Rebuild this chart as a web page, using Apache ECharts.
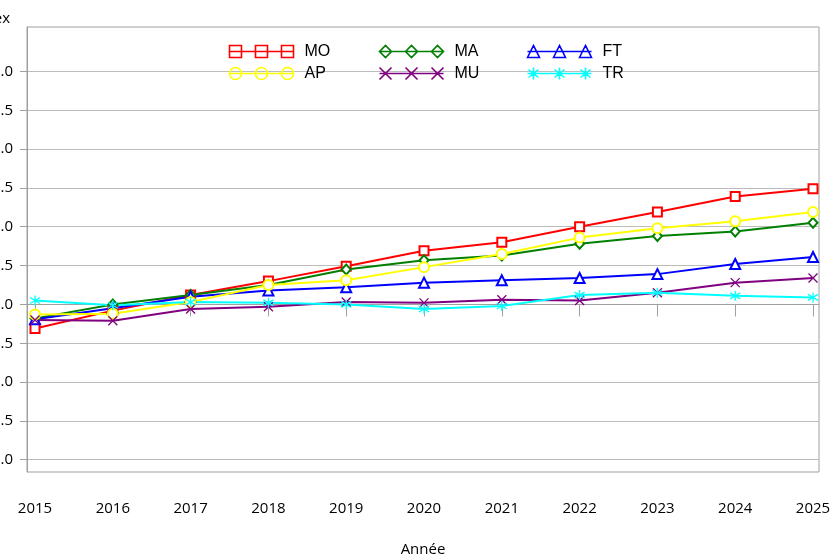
<!DOCTYPE html>
<html><head><meta charset="utf-8">
<script src="https://cdn.jsdelivr.net/npm/echarts@6/dist/echarts.min.js"></script>
<style>html,body{margin:0;padding:0;background:#fff}#c{width:832px;height:555px}</style>
</head><body><div id="c"></div>
<script>
// ---- data ----
const years = [2015, 2016, 2017, 2018, 2019, 2020, 2021, 2022, 2023, 2024, 2025];
const MO = [-0.31, -0.08, 0.12, 0.30, 0.49, 0.69, 0.80, 1.00, 1.19, 1.39, 1.49];
const MA = [-0.18, 0.00, 0.12, 0.25, 0.45, 0.57, 0.63, 0.78, 0.88, 0.94, 1.05];
const FT = [-0.19, -0.05, 0.10, 0.18, 0.22, 0.28, 0.31, 0.34, 0.39, 0.52, 0.61];
const AP = [-0.13, -0.12, 0.03, 0.25, 0.31, 0.48, 0.65, 0.86, 0.98, 1.07, 1.19];
const MU = [-0.20, -0.21, -0.06, -0.03, 0.03, 0.02, 0.06, 0.05, 0.15, 0.28, 0.34];
const TR = [0.05, -0.01, 0.03, 0.02, 0.00, -0.06, -0.02, 0.12, 0.15, 0.11, 0.09];
const yTicks = [-2.0, -1.5, -1.0, -0.5, 0.0, 0.5, 1.0, 1.5, 2.0, 2.5, 3.0];
const xTitle = 'Année';
const yTitle = 'Index';

// ---- styling ----
const colors = { MO: '#ff0000', MA: '#008000', FT: '#0000ff', AP: '#ffff00', MU: '#800080', TR: '#00ffff' };
const chartSymbols = {
  MO: ['emptyRect', 9], MA: ['emptyDiamond', [9, 10]], FT: ['emptyTriangle', 10],
  AP: ['emptyCircle', 10], MU: ['path://M0 0L10 10M10 0L0 10', 9],
  TR: ['path://M5 0L5 10M1 2L9 8M9 2L1 8', 10]
};
function iconPath(kind) {
  const cs = [6, 32, 58];
  let p = 'M0 6L64 6';
  cs.forEach(c => {
    const a = c - 6, b = c + 6;
    if (kind === 'sq') p += `M${a} 0L${b} 0L${b} 12L${a} 12Z`;
    if (kind === 'ci') p += `M${a} 6A6 6 0 1 1 ${b} 6A6 6 0 1 1 ${a} 6Z`;
    if (kind === 'di') p += `M${a} 6L${c} 0L${b} 6L${c} 12Z`;
    if (kind === 'tr') p += `M${a} 12L${c} 0L${b} 12Z`;
    if (kind === 'x') p += `M${a} 0L${b} 12M${b} 0L${a} 12`;
    if (kind === 'st') p += `M${c} 0L${c} 12M${c - 5} 2L${c + 5} 10M${c + 5} 2L${c - 5} 10`;
  });
  return 'path://' + p;
}
const legendIcons = { MO: 'sq', AP: 'ci', MA: 'di', MU: 'x', FT: 'tr', TR: 'st' };
const seriesData = { MO, MA, FT, AP, MU, TR };
const order = ['MO', 'MA', 'FT', 'AP', 'MU', 'TR'];

const legendFont = { fontFamily: 'Liberation Sans, Arial, sans-serif', fontSize: 16, color: '#000', padding: [0, 0, 0, 6] };
function legendCol(names, left) {
  return {
    orient: 'vertical', left: left, top: 43, itemWidth: 64, itemHeight: 12, itemGap: 5, padding: 0,
    selectedMode: false, textStyle: legendFont,
    data: names.map(n => ({ name: n, icon: iconPath(legendIcons[n]),
      itemStyle: { color: 'none', borderColor: colors[n], borderWidth: 1.6 } }))
  };
}
const axisFont = { fontFamily: 'Open Sans, sans-serif', fontSize: 15, color: '#000' };

const chart = echarts.init(document.getElementById('c'), null, { renderer: 'canvas' });
chart.setOption({
  animation: false,
  backgroundColor: '#fff',
  grid: { left: 27, right: 13, top: 27, bottom: 83, show: true, borderColor: '#a0a0a0', borderWidth: 1,
          backgroundColor: 'transparent', containLabel: false, outerBoundsMode: 'none' },
  legend: [legendCol(['MO', 'AP'], 227), legendCol(['MA', 'MU'], 377), legendCol(['FT', 'TR'], 525)],
  xAxis: {
    type: 'value', min: 2014.897, max: 2025.077,
    axisLine: { show: true, lineStyle: { color: '#a0a0a0' } },
    axisTick: { show: true, length: 12, customValues: years, lineStyle: { color: '#a0a0a0' } },
    axisLabel: { customValues: years, formatter: v => String(v), margin: 29, ...axisFont },
    splitLine: { show: false },
    name: xTitle, nameLocation: 'middle', nameGap: 70, nameTextStyle: axisFont
  },
  yAxis: {
    type: 'value', min: -2.158, max: 3.572,
    axisLine: { show: true, lineStyle: { color: '#a0a0a0' } },
    axisTick: { show: true, length: 7, customValues: yTicks, lineStyle: { color: '#a0a0a0' } },
    axisLabel: { customValues: yTicks, formatter: v => Number(v).toFixed(1), margin: 14, ...axisFont },
    splitLine: { show: true, lineStyle: { color: '#bcbcbc' } },
    name: yTitle, nameLocation: 'end', nameGap: 1,
    nameTextStyle: { ...axisFont, align: 'right', padding: [0, 17, 0, 0] }
  },
  series: order.map(n => ({
    name: n, type: 'line',
    data: years.map((y, i) => [y, seriesData[n][i]]),
    symbol: chartSymbols[n][0], symbolSize: chartSymbols[n][1], showAllSymbol: true,
    lineStyle: { color: colors[n], width: 2 },
    itemStyle: { color: colors[n], borderColor: colors[n], borderWidth: 1.3 },
    emphasis: { disabled: true }
  }))
});
</script></body></html>
